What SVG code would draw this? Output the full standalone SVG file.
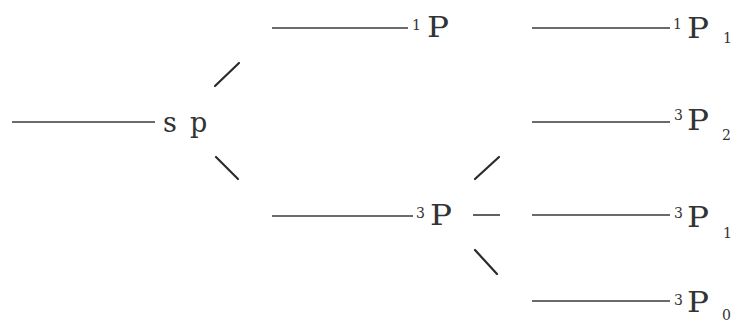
<svg xmlns="http://www.w3.org/2000/svg" width="734" height="325" viewBox="0 0 734 325">
<style>
.lvl{stroke:#3a3a3a;stroke-width:1.6;fill:none}
.con{stroke:#2a2a2a;stroke-width:2.2;fill:none;stroke-linecap:round}
.t{font-family:"DejaVu Serif","Liberation Serif",serif;fill:#333333}
.m{font-size:27px}
.P{font-size:28px}
.s{font-size:14px}
</style>
<rect width="734" height="325" fill="#ffffff"/>
<g id="node-sp">
<line class="lvl" x1="12" y1="122" x2="155" y2="122"/>
<text class="t m" x="163" y="132">s</text>
<text class="t m" x="190" y="132">p</text>
</g>
<g id="node-1P">
<line class="lvl" x1="272" y1="28" x2="408" y2="28"/>
<text class="t s" x="412" y="30">1</text>
<text class="t P" x="427" y="37" textLength="22" lengthAdjust="spacingAndGlyphs">P</text>
</g>
<g id="node-3P">
<line class="lvl" x1="272" y1="216" x2="413" y2="216"/>
<text class="t s" x="416" y="218">3</text>
<text class="t P" x="430" y="225" textLength="22" lengthAdjust="spacingAndGlyphs">P</text>
</g>
<g id="node-1P1">
<line class="lvl" x1="532" y1="28" x2="670" y2="28"/>
<text class="t s" x="673" y="29">1</text>
<text class="t P" x="687" y="38" textLength="22" lengthAdjust="spacingAndGlyphs">P</text>
<text class="t s" x="723" y="43">1</text>
</g>
<g id="node-3P2">
<line class="lvl" x1="532" y1="122" x2="670" y2="122"/>
<text class="t s" x="674" y="120">3</text>
<text class="t P" x="687" y="130" textLength="22" lengthAdjust="spacingAndGlyphs">P</text>
<text class="t s" x="722" y="140">2</text>
</g>
<g id="node-3P1">
<line class="lvl" x1="532" y1="215" x2="670" y2="215"/>
<text class="t s" x="674" y="218">3</text>
<text class="t P" x="687" y="227" textLength="22" lengthAdjust="spacingAndGlyphs">P</text>
<text class="t s" x="723" y="238">1</text>
</g>
<g id="node-3P0">
<line class="lvl" x1="532" y1="301" x2="670" y2="301"/>
<text class="t s" x="674" y="305">3</text>
<text class="t P" x="687" y="312" textLength="22" lengthAdjust="spacingAndGlyphs">P</text>
<text class="t s" x="722" y="320">0</text>
</g>
<g id="connectors">
<line class="con" x1="215" y1="86" x2="239" y2="63"/>
<line class="con" x1="216" y1="157" x2="238" y2="179"/>
<line class="con" x1="475" y1="179" x2="499" y2="157"/>
<line class="lvl" x1="473" y1="215" x2="500" y2="215"/>
<line class="con" x1="475" y1="250" x2="497" y2="274"/>
</g>
</svg>
